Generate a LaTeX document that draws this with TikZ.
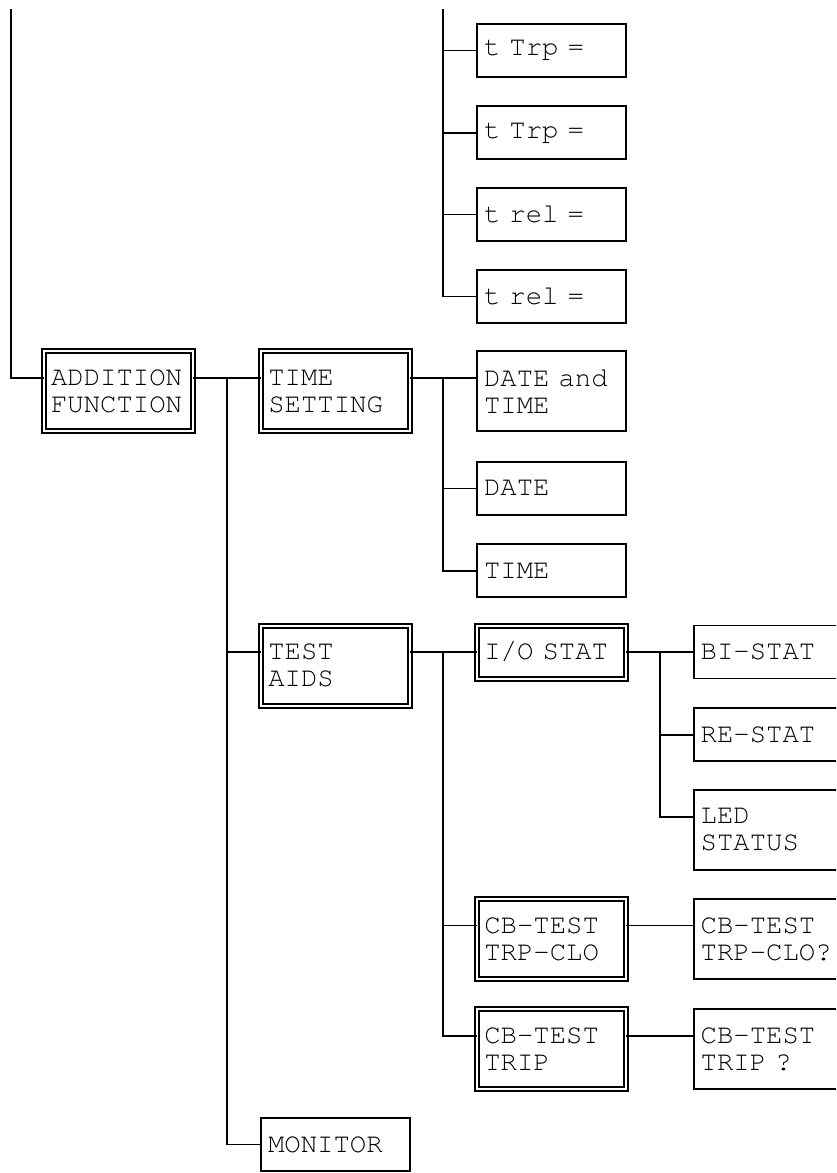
\documentclass[tikz,border=0pt]{standalone}
\usepackage[T1]{fontenc}
\usepackage{courier}
\newcommand\boxfont{\ttfamily\fontsize{27.3pt}{27pt}\selectfont}
\tikzset{
  sbox/.style={draw, line width=1.8pt, rectangle, anchor=north west, outer sep=0pt,
    inner xsep=7pt, inner ysep=0pt, text width=135pt, minimum width=149pt,
    align=left, font=\boxfont},
  dbox/.style={sbox, double, line width=2pt, double distance=2pt},
  one/.style={minimum height=53pt},
  two/.style={minimum height=80pt},
  conn/.style={line width=1.8pt},
}
\begin{document}
\begin{tikzpicture}[x=1pt,y=-1pt]
\useasboundingbox (0,0) rectangle (836,1173);
\clip (0,0) rectangle (836,1173);
% column 1 and 2
\node[dbox,two] (add) at (44,351.3) {ADDITION\\FUNCTION};
\node[dbox,two] (ts) at (261.3,351.3) {TIME\\SETTING};
\node[dbox,two] (ta) at (261.3,625.5) {TEST\\AIDS};
\node[sbox,one] (mon) at (261,1117.7) {MONITOR};
% column 3
\node[sbox,one] (trp1) at (477,23.7) {t Trp =};
\node[sbox,one] (trp2) at (477,106) {t Trp =};
\node[sbox,one] (rel1) at (477,187.7) {t rel =};
\node[sbox,one] (rel2) at (477,269.7) {t rel =};
\node[sbox,two] (dt) at (477,351.3) {DATE and\\TIME};
\node[sbox,one] (date) at (477,461.7) {DATE};
\node[sbox,one] (tm) at (477,544) {TIME};
\node[dbox,one] (io) at (477.3,625.5) {I/O STAT};
\node[dbox,two] (cbtc) at (477.3,898.7) {CB-TEST\\TRP-CLO};
\node[dbox,two] (cbt) at (477.3,1009) {CB-TEST\\TRIP};
% column 4
\node[sbox,one] (bi) at (693.7,625.5) {BI-STAT};
\node[sbox,one] (re) at (693.7,708.3) {RE-STAT};
\node[sbox,two] (led) at (693.7,790) {LED\\STATUS};
\node[sbox,two] (cbtcq) at (693.7,898.7) {CB-TEST\\TRP-CLO?};
\node[sbox,two] (cbtq) at (693.7,1009) {CB-TEST\\TRIP ?};
% junction coordinates
\coordinate (topL) at (10.7,9.3);
\coordinate (topR) at (443.3,9.3);
\coordinate (j1) at (227,378);
\coordinate (j2) at (443.3,378);
\coordinate (j3) at (443.3,652.2);
\coordinate (j4) at (660,652.2);
% connectors
\draw[conn] (topL) |- ([yshift=-26.7pt]add.north west);
\draw[conn] (topR) |- ([yshift=-26.7pt]rel2.north west);
\draw[conn] ([yshift=-26.7pt]trp1.north west) -| (topR);
\draw[conn] ([yshift=-26.7pt]trp2.north west) -| (topR);
\draw[conn] ([yshift=-26.7pt]rel1.north west) -| (topR);
\draw[conn] ([yshift=-26.7pt]add.north east) -- ([yshift=-26.7pt]ts.north west);
\draw[conn] (j1) |- ([yshift=-26.7pt]ta.north west);
\draw[conn] (j1) |- ([yshift=-26.7pt]mon.north west);
\draw[conn] ([yshift=-26.7pt]ts.north east) -- ([yshift=-26.7pt]dt.north west);
\draw[conn] (j2) |- ([yshift=-26.7pt]date.north west);
\draw[conn] (j2) |- ([yshift=-26.7pt]tm.north west);
\draw[conn] ([yshift=-26.7pt]ta.north east) -- ([yshift=-26.7pt]io.north west);
\draw[conn] (j3) |- ([yshift=-26.7pt]cbtc.north west);
\draw[conn] (j3) |- ([yshift=-26.7pt]cbt.north west);
\draw[conn] ([yshift=-26.7pt]io.north east) -- ([yshift=-26.7pt]bi.north west);
\draw[conn] (j4) |- ([yshift=-26.7pt]re.north west);
\draw[conn] (j4) |- ([yshift=-26.7pt]led.north west);
\draw[conn] ([yshift=-26.7pt]cbtc.north east) -- ([yshift=-26.7pt]cbtcq.north west);
\draw[conn] ([yshift=-26.7pt]cbt.north east) -- ([yshift=-26.7pt]cbtq.north west);
\end{tikzpicture}
\end{document}
